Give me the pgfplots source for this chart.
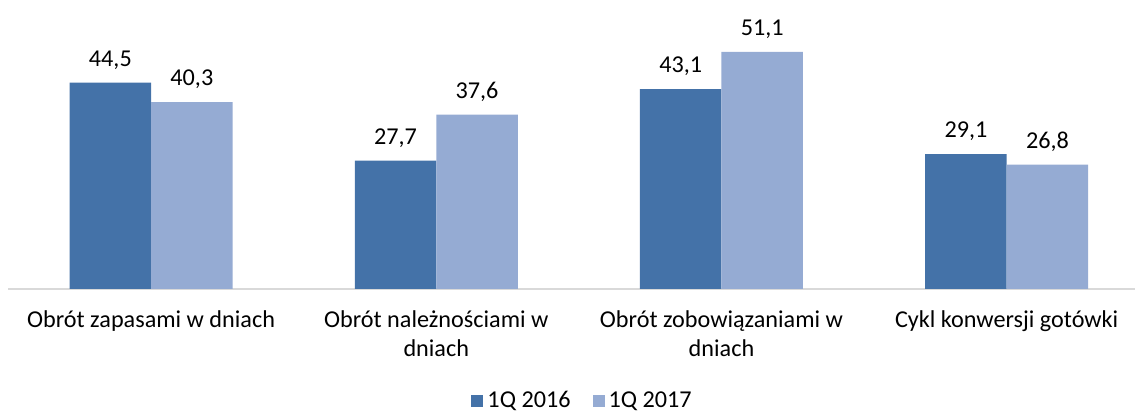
\documentclass[border=0pt]{standalone}
\usepackage{pgfplots}
\pgfplotsset{compat=1.18}
\usepackage{fontspec}
\setmainfont{Carlito}
\definecolor{dk}{RGB}{68,114,168}
\definecolor{lt}{RGB}{149,171,211}
\definecolor{axc}{RGB}{217,217,217}
\begin{document}
\begin{tikzpicture}
\path[use as bounding box] (0pt,0pt) rectangle (567.5pt,205.5pt);
\begin{axis}[
  at={(4.25pt,61pt)}, anchor=south west,
  scale only axis, width=563.25pt, height=139.15pt,
  xmin=-0.5, xmax=3.45, ymin=0, ymax=60,
  ybar=0pt, bar width=40.75pt,
  axis x line=bottom, hide y axis,
  x axis line style={draw=axc, line width=1pt, -},
  xtick={0,1,2,3}, xtick style={draw=none},
  xticklabels={Obrót zapasami w dniach, {Obrót należnościami w\\dniach}, {Obrót zobowiązaniami w\\dniach}, Cykl konwersji gotówki},
  xticklabel style={font=\fontsize{12.1}{14.5}\selectfont, align=center, yshift=-5pt},
  nodes near coords,
  every node near coord/.append style={font=\fontsize{12.1}{13}\selectfont, yshift=3pt},
  nodes near coords style={/pgf/number format/.cd, use comma, fixed, fixed zerofill, precision=1, assume math mode=true},
  legend style={at={(0.5105,-0.403)}, anchor=center, legend columns=2, draw=none, font=\fontsize{12.1}{13}\selectfont,
    /tikz/every even column/.append style={column sep=9pt}},
  legend image code/.code={\fill[#1] (0pt,-3pt) rectangle (6pt,3pt);},
]
\addplot[fill=dk, draw=none] coordinates {(0,44.5) (1,27.7) (2,43.1) (3,29.1)};
\addplot[fill=lt, draw=none] coordinates {(0,40.3) (1,37.6) (2,51.1) (3,26.8)};
\legend{1Q 2016, 1Q 2017}
\end{axis}
\end{tikzpicture}
\end{document}
